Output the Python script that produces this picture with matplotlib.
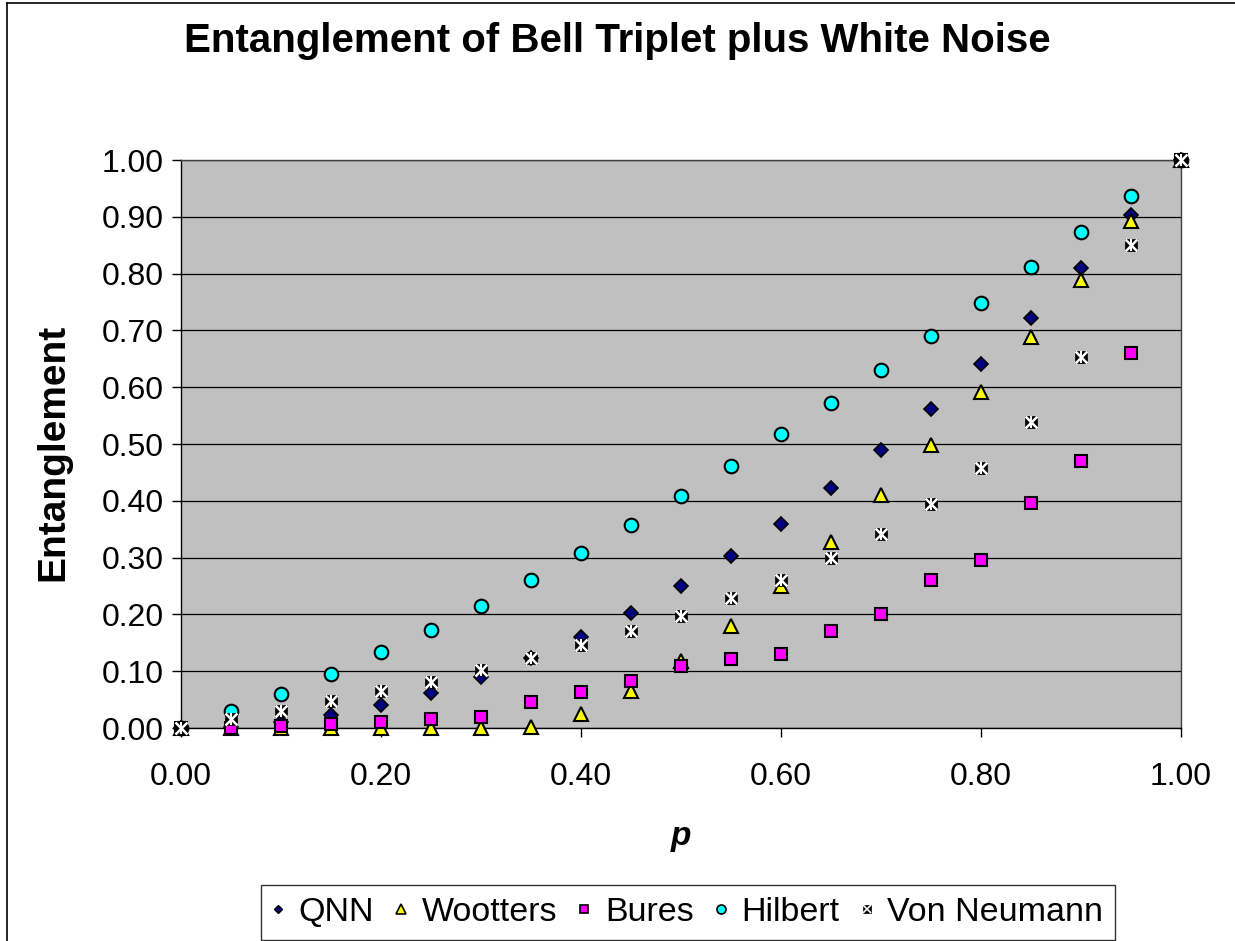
import matplotlib
matplotlib.use("Agg")
import matplotlib.pyplot as plt
from matplotlib.lines import Line2D

p = [0.00, 0.05, 0.10, 0.15, 0.20, 0.25, 0.30, 0.35, 0.40, 0.45, 0.50,
     0.55, 0.60, 0.65, 0.70, 0.75, 0.80, 0.85, 0.90, 0.95, 1.00]
qnn = [0.000, 0.0025, 0.010, 0.0225, 0.040, 0.0625, 0.090, 0.1225, 0.160, 0.2025, 0.250,
       0.3025, 0.360, 0.4225, 0.490, 0.5625, 0.640, 0.7225, 0.810, 0.9025, 1.000]
wootters = [0.000, 0.000, 0.000, 0.000, 0.000, 0.000, 0.000, 0.002, 0.025, 0.065, 0.118,
            0.180, 0.250, 0.328, 0.411, 0.499, 0.592, 0.689, 0.789, 0.893, 1.000]
bures = [0.000, 0.000, 0.004, 0.0065, 0.011, 0.015, 0.020, 0.046, 0.063, 0.083, 0.110,
         0.122, 0.130, 0.170, 0.201, 0.261, 0.296, 0.396, 0.470, 0.661, 1.000]
hilbert = [0.000, 0.030, 0.060, 0.095, 0.133, 0.173, 0.215, 0.260, 0.308, 0.358, 0.408,
           0.462, 0.517, 0.573, 0.631, 0.690, 0.749, 0.811, 0.873, 0.936, 1.000]
von_neumann = [0.000, 0.015, 0.030, 0.047, 0.0645, 0.0815, 0.102, 0.123, 0.146, 0.170, 0.197,
               0.228, 0.261, 0.300, 0.342, 0.394, 0.457, 0.538, 0.653, 0.850, 1.000]

series_names = ["QNN", "Wootters", "Bures", "Hilbert", "Von Neumann"]
title = "Entanglement of Bell Triplet plus White Noise"
xlabel = "p"
ylabel = "Entanglement"
yticks = [0.0, 0.1, 0.2, 0.3, 0.4, 0.5, 0.6, 0.7, 0.8, 0.9, 1.0]
xticks = [0.0, 0.2, 0.4, 0.6, 0.8, 1.0]

plt.rcParams['font.family'] = ['Liberation Sans', 'DejaVu Sans']

W, H = 1235, 941
fig = plt.figure(figsize=(W / 100, H / 100), dpi=100)
ax = fig.add_axes([181 / W, 1 - 728 / H, 1000 / W, 568 / H])
ax.set_facecolor('#C0C0C0')
ax.set_xlim(0, 1)
ax.set_ylim(0, 1)
ax.set_yticks(yticks)
ax.set_xticks(xticks)
ax.set_yticklabels([f"{v:.2f}" for v in yticks])
ax.set_xticklabels([f"{v:.2f}" for v in xticks])
ax.tick_params(axis='y', direction='out', length=6.5, width=1, labelsize=23, pad=6)
ax.tick_params(axis='x', direction='out', length=6.5, width=1, labelsize=23, pad=18)
ax.grid(axis='y', color='black', linewidth=0.9)
ax.set_axisbelow(True)
for s in ax.spines.values():
    s.set_color('black')
    s.set_linewidth(1.0)
ax.spines['right'].set_color('#404040')
ax.spines['top'].set_color('#404040')

kw = dict(linestyle='none', clip_on=False)
ax.plot(p, qnn, marker='D', ms=6.8, mfc='#000080', mec='black', mew=1.2, zorder=3, **kw)
ax.plot(p, wootters, marker='^', ms=9.5, mfc='#FFFF00', mec='black', mew=1.5, zorder=4, **kw)
ax.plot(p, bures, marker='s', ms=8.5, mfc='#FF00FF', mec='black', mew=1.5, zorder=5, **kw)
ax.plot(p, hilbert, marker='o', ms=9.8, mfc='#00FFFF', mec='black', mew=1.5, zorder=6, **kw)
ax.plot(p, von_neumann, marker='s', ms=8.3, mfc='black', mec='black', mew=0.5, zorder=7, **kw)
ax.plot(p, von_neumann, marker='x', ms=8.3, mec='white', mew=1.8, zorder=8, **kw)
ax.plot(p, von_neumann, marker='|', ms=8.3, mec='white', mew=1.5, zorder=8, **kw)

fig.text(0.5, 1 - 41 / H, title, ha='center', va='center', fontsize=29, fontweight='bold')
fig.text(53 / W, 1 - 452 / H, ylabel, rotation=90, ha='center', va='center',
         fontsize=28, fontweight='bold')
fig.text(681 / W, 1 - 836 / H, xlabel, ha='center', va='center', fontsize=24,
         fontweight='bold', fontstyle='italic')

# chart area border (left and top visible)
fig.add_artist(Line2D([7 / W, 7 / W], [0, 1 - 3 / H], color='black', lw=1.2, transform=fig.transFigure))
fig.add_artist(Line2D([7 / W, 1], [1 - 3 / H, 1 - 3 / H], color='black', lw=1.2, transform=fig.transFigure))

# legend
h_qnn = Line2D([], [], linestyle='none', marker='D', ms=4.5, mfc='#000080', mec='black', mew=1)
h_woo = Line2D([], [], linestyle='none', marker='^', ms=6.5, mfc='#FFFF00', mec='black', mew=1.2)
h_bur = Line2D([], [], linestyle='none', marker='s', ms=6, mfc='#FF00FF', mec='black', mew=1.2)
h_hil = Line2D([], [], linestyle='none', marker='o', ms=6.5, mfc='#00FFFF', mec='black', mew=1.2)
h_vn1 = Line2D([], [], linestyle='none', marker='s', ms=5.5, mfc='black', mec='black', mew=0.5)
h_vn2 = Line2D([], [], linestyle='none', marker='x', ms=5.5, mec='white', mew=1.2)
leg = fig.legend([h_qnn, h_woo, h_bur, h_hil, (h_vn1, h_vn2)], series_names,
                 loc='upper center', bbox_to_anchor=(688 / W, 1 - 885 / H), ncol=5,
                 fontsize=24.5, frameon=True, fancybox=False, edgecolor='black',
                 handlelength=0.3, handletextpad=0.45, columnspacing=0.65,
                 borderpad=0.35, borderaxespad=0)
leg.get_frame().set_linewidth(1.0)

fig.savefig("out.png", dpi=100)
